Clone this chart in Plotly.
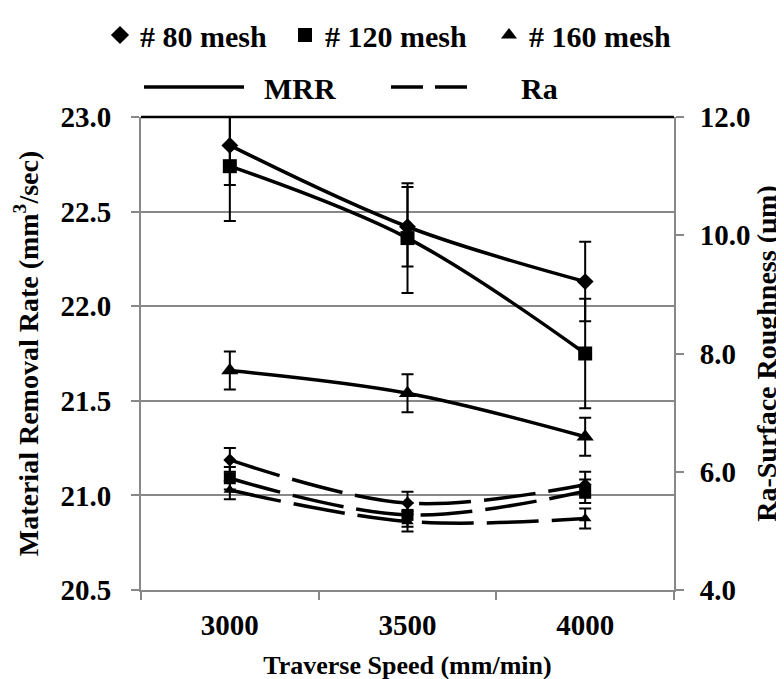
import plotly.graph_objects as go

# ---- data ----
speeds = ["3000", "3500", "4000"]
mesh_names = ["# 80 mesh", "# 120 mesh", "# 160 mesh"]

mrr_80 = [22.85, 22.42, 22.13]
mrr_120 = [22.74, 22.36, 21.75]
mrr_160 = [21.66, 21.54, 21.31]
mrr_80_err = [0.21, 0.21, 0.21]
mrr_120_err = [0.29, 0.29, 0.29]
mrr_160_err = [0.10, 0.10, 0.10]

ra_80 = [6.20, 5.47, 5.78]
ra_120 = [5.89, 5.27, 5.67]
ra_160 = [5.69, 5.16, 5.21]
ra_80_err = [0.20, 0.19, 0.22]
ra_120_err = [0.19, 0.20, 0.20]
ra_160_err = [0.155, 0.17, 0.17]

left_ticks = [20.5, 21.0, 21.5, 22.0, 22.5, 23.0]
right_ticks = [4.0, 6.0, 8.0, 10.0, 12.0]

FONT = "Liberation Serif, Times New Roman, serif"
GRAY = "#888888"
W, H = 784, 679

symbols = ["diamond", "square", "triangle-up"]
mrr_sizes = [13, 14, 15]
ra_sizes = [10, 12, 11]

fig = go.Figure()

mrr_series = [(mrr_80, mrr_80_err), (mrr_120, mrr_120_err), (mrr_160, mrr_160_err)]
ra_series = [(ra_80, ra_80_err), (ra_120, ra_120_err), (ra_160, ra_160_err)]

for i, (vals, err) in enumerate(mrr_series):
    fig.add_trace(go.Scatter(
        x=speeds, y=vals, mode="lines+markers", showlegend=False,
        line=dict(color="black", width=3.5, shape="spline", smoothing=1.0),
        marker=dict(symbol=symbols[i], size=mrr_sizes[i], color="black"),
        error_y=dict(type="data", array=err, visible=True, color="black",
                     thickness=2, width=6),
        yaxis="y",
    ))

for i, (vals, err) in enumerate(ra_series):
    fig.add_trace(go.Scatter(
        x=speeds, y=vals, mode="lines+markers", showlegend=False,
        line=dict(color="black", width=3.5, shape="spline", smoothing=1.0,
                  dash="52px,13px"),
        marker=dict(symbol=symbols[i], size=ra_sizes[i], color="black"),
        error_y=dict(type="data", array=err, visible=True, color="black",
                     thickness=2, width=6),
        yaxis="y2",
    ))

# legend-only entries
legend_ids = ["legend", "legend2", "legend3"]
for i, name in enumerate(mesh_names):
    fig.add_trace(go.Scatter(
        x=[None], y=[None], mode="markers", name=name,
        legend=legend_ids[i],
        marker=dict(symbol=symbols[i], size=14, color="black"),
    ))
fig.add_trace(go.Scatter(x=[None], y=[None], mode="lines",
                         name="\u2002MRR", legend="legend4",
                         line=dict(color="black", width=3.5)))
fig.add_trace(go.Scatter(x=[None], y=[None], mode="lines",
                         name="\u2002\u2002\u2002Ra", legend="legend5",
                         line=dict(color="black", width=3.5, dash="32px,12px")))

legfont = dict(family=FONT, size=30, color="black", weight="bold")


def leg(xpx, ypx, iw=30):
    return dict(x=xpx / W, y=1 - ypx / H, xref="container", yref="container",
                xanchor="left", yanchor="middle", font=legfont,
                bgcolor="rgba(0,0,0,0)", itemwidth=iw, orientation="h")


tickfont = dict(family=FONT, size=29, color="black", weight="bold")
titlefont_x = dict(family=FONT, size=26, color="black", weight="bold")
titlefont_y = dict(family=FONT, size=28, color="black", weight="bold")

fig.update_layout(
    width=W, height=H,
    margin=dict(l=133, r=118, t=109, b=97, autoexpand=False),
    paper_bgcolor="white", plot_bgcolor="white",
    font=dict(family=FONT, size=28, color="black", weight="bold"),
    legend=leg(92, 27),
    legend2=leg(277, 27),
    legend3=leg(481, 27),
    legend4=leg(131, 79, 100),
    legend5=leg(378, 79, 80),
    xaxis=dict(
        type="category", range=[-0.5, 2.5], tickson="boundaries",
        ticks="outside", ticklen=8, automargin=False,
        tickwidth=1.5, tickcolor=GRAY, showline=True, linecolor=GRAY,
        linewidth=2, showgrid=False, ticklabelstandoff=8,
        tickfont=tickfont,
        title=dict(text="Traverse Speed (mm/min)", standoff=16, font=titlefont_x),
    ),
    yaxis=dict(
        range=[20.5, 23.0], tickvals=left_ticks, tickformat=".1f",
        ticks="outside", ticklen=8, tickwidth=1.5, tickcolor=GRAY,
        showline=True, linecolor=GRAY, linewidth=2, showgrid=True,
        gridcolor=GRAY, gridwidth=1.5, zeroline=False, ticklabelstandoff=14,
        automargin=False, tickfont=tickfont,
        title=dict(text="Material Removal Rate (mm<sup>3</sup>/sec)",
                   standoff=14, font=titlefont_y),
    ),
    yaxis2=dict(
        range=[4, 12], tickvals=right_ticks, tickformat=".1f",
        overlaying="y", side="right",
        ticks="outside", ticklen=8, tickwidth=1.5, tickcolor=GRAY,
        showline=True, linecolor=GRAY, linewidth=2, showgrid=False,
        zeroline=False, ticklabelstandoff=10, automargin=False,
        tickfont=tickfont,
        title=dict(text="Ra-Surface Roughness (µm)", standoff=1, font=titlefont_y),
    ),
    shapes=[dict(type="line", xref="paper", yref="paper", x0=0, x1=1,
                 y0=1, y1=1, line=dict(color="black", width=2.5),
                 layer="above")],
)

fig.write_html("out.html")
